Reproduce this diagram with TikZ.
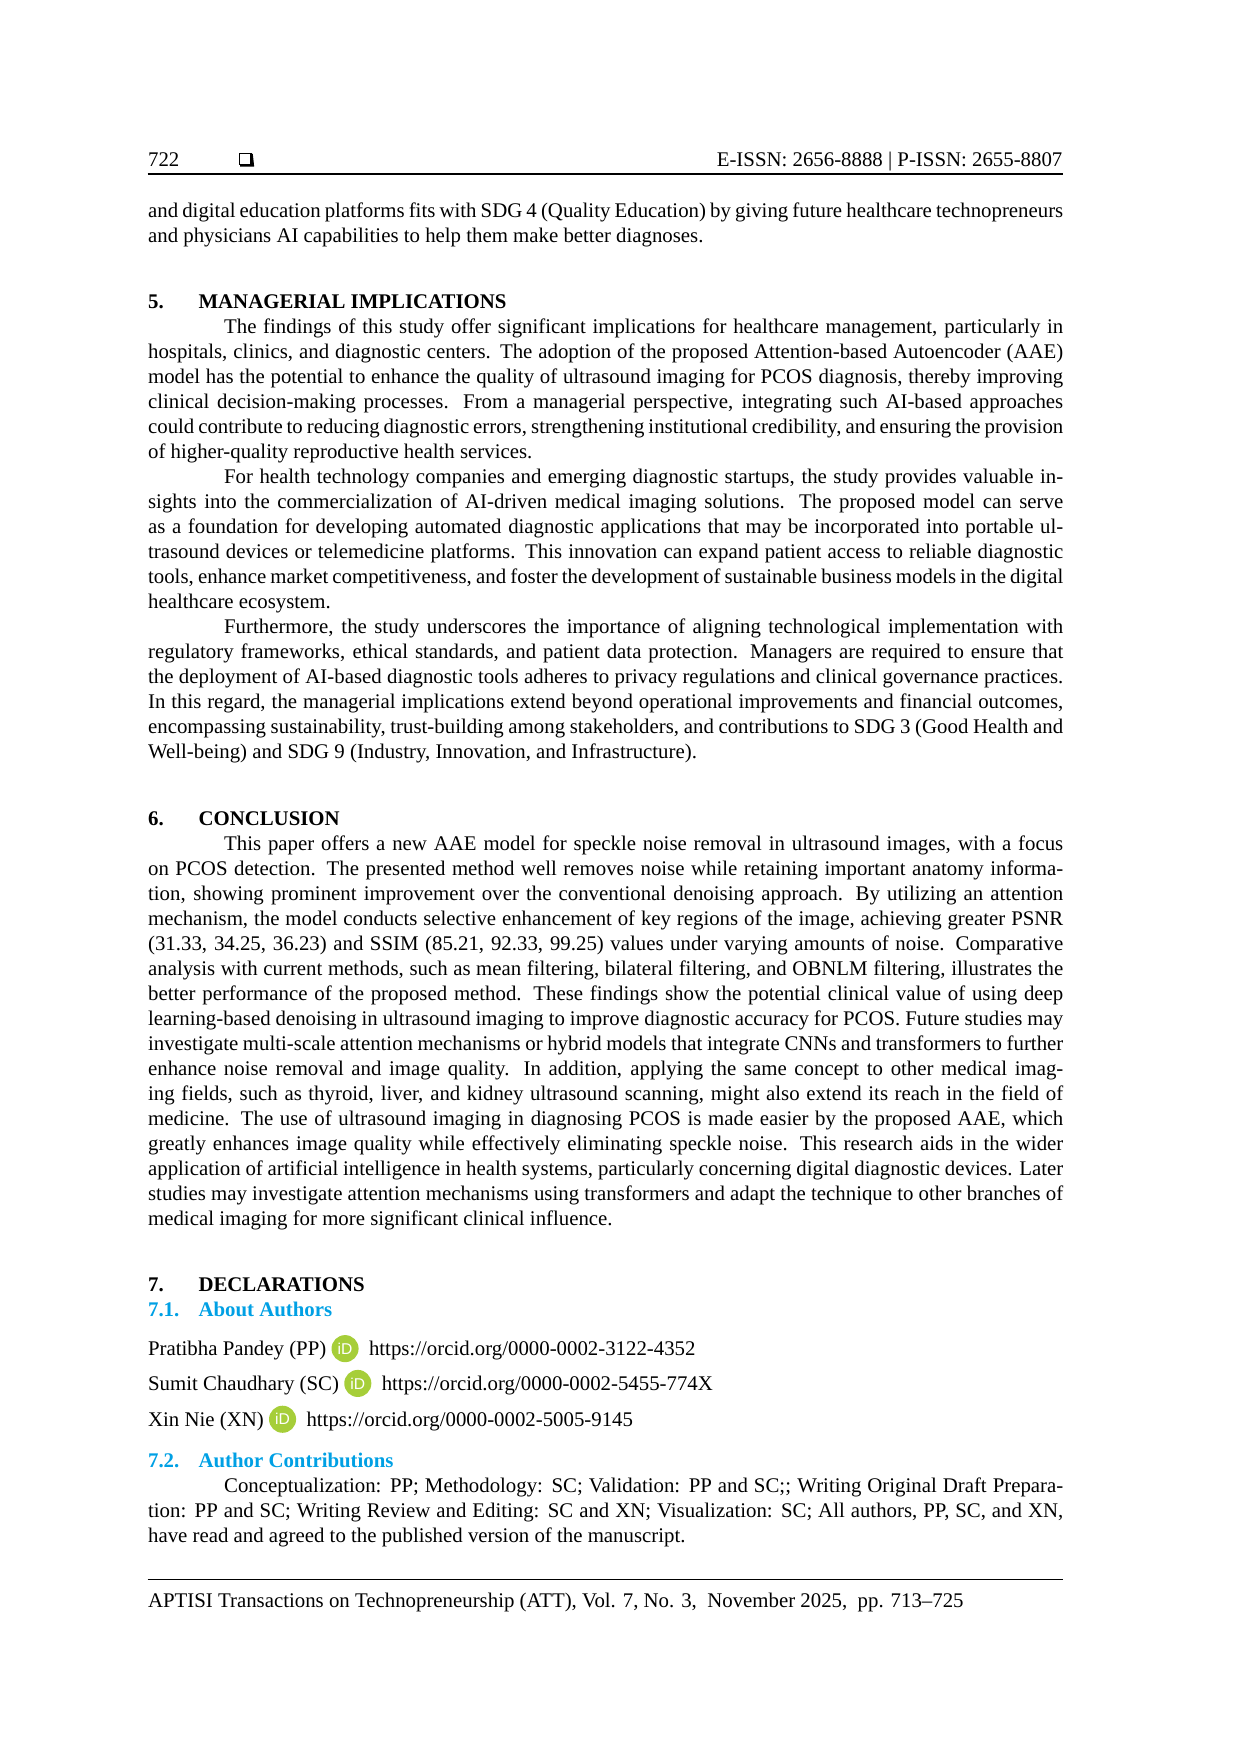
\documentclass[tikz,border=0pt]{standalone}
\usepackage{fontspec}
\setmainfont{Liberation Serif}
\newfontfamily\sansf{Liberation Sans}
\definecolor{secblue}{RGB}{0,160,228}
\definecolor{orcidg}{RGB}{166,206,57}
\newcommand{\orcidicon}{\raisebox{-0.5pt}{\tikz[baseline=0pt,x=1pt,y=1pt]{\fill[orcidg] (0,4pt) circle (6.5pt); \node[anchor=center,text=white,font=\sansf\fontsize{7.5}{8}\selectfont,inner sep=0] at (0,4pt) {iD};}}}
\newcommand{\ind}{\hspace*{36.5pt}}
\newcommand{\secnum}[1]{\makebox[24.2pt][l]{#1}}
\begin{document}
\begin{tikzpicture}[x=1pt,y=-1pt,
  txt/.style={anchor=north west,inner sep=0,text width=439.3pt,align=justify,font=\fontsize{10}{12}\selectfont},
  line/.style={anchor=north west,inner sep=0,font=\fontsize{10}{12}\selectfont}]
\useasboundingbox (0,0) rectangle (595.3,842);
% header
\node[line,anchor=base west] (pg) at (70.9,79.9) {722};
\node[inner sep=0,minimum size=5.5pt,draw,line width=0.6pt,fill=white] (bx) at (117.7,76.4) {};
\draw[line width=1.2pt] ([xshift=0.6pt]bx.south west) -- ([xshift=0.6pt]bx.south east) -- ([yshift=-0.6pt]bx.north east);
\node[line,anchor=base east] (issn) at (510.2,79.9) {E-ISSN: 2656-8888 \textbar\ P-ISSN: 2655-8807};
\coordinate (hl) at (70.9,83.4); \coordinate (hr) at (510.2,83.4);
\draw[line width=0.8pt] (hl) -- (hr);
% para 1
\node[txt] (p1) at (70.9,97.0) {and digital education platforms fits with SDG 4 (Quality Education) by giving future healthcare technopreneurs\linebreak and physicians AI capabilities to help them make better diagnoses.};
% section 5
\node[txt] (s5) at (70.9,141.5) {\textbf{\secnum{5.}MANAGERIAL IMPLICATIONS}\par
\ind The findings of this study offer significant implications for healthcare management, particularly in\linebreak hospitals, clinics, and diagnostic centers. The adoption of the proposed Attention-based Autoencoder (AAE)\linebreak model has the potential to enhance the quality of ultrasound imaging for PCOS diagnosis, thereby improving\linebreak clinical decision-making processes. From a managerial perspective, integrating such AI-based approaches\linebreak could contribute to reducing diagnostic errors, strengthening institutional credibility, and ensuring the provision\linebreak of higher-quality reproductive health services.\par
\ind For health technology companies and emerging diagnostic startups, the study provides valuable in-\linebreak sights into the commercialization of AI-driven medical imaging solutions. The proposed model can serve\linebreak as a foundation for developing automated diagnostic applications that may be incorporated into portable ul-\linebreak trasound devices or telemedicine platforms. This innovation can expand patient access to reliable diagnostic\linebreak tools, enhance market competitiveness, and foster the development of sustainable business models in the digital\linebreak healthcare ecosystem.\par
\ind Furthermore, the study underscores the importance of aligning technological implementation with\linebreak regulatory frameworks, ethical standards, and patient data protection. Managers are required to ensure that\linebreak the deployment of AI-based diagnostic tools adheres to privacy regulations and clinical governance practices.\linebreak In this regard, the managerial implications extend beyond operational improvements and financial outcomes,\linebreak encompassing sustainability, trust-building among stakeholders, and contributions to SDG 3 (Good Health and\linebreak Well-being) and SDG 9 (Industry, Innovation, and Infrastructure).};
% section 6
\node[txt] (s6) at (70.9,389.6) {\textbf{\secnum{6.}CONCLUSION}\par
\ind This paper offers a new AAE model for speckle noise removal in ultrasound images, with a focus\linebreak on PCOS detection. The presented method well removes noise while retaining important anatomy informa-\linebreak tion, showing prominent improvement over the conventional denoising approach. By utilizing an attention\linebreak mechanism, the model conducts selective enhancement of key regions of the image, achieving greater PSNR\linebreak (31.33, 34.25, 36.23) and SSIM (85.21, 92.33, 99.25) values under varying amounts of noise. Comparative\linebreak analysis with current methods, such as mean filtering, bilateral filtering, and OBNLM filtering, illustrates the\linebreak better performance of the proposed method. These findings show the potential clinical value of using deep\linebreak learning-based denoising in ultrasound imaging to improve diagnostic accuracy for PCOS. Future studies may\linebreak investigate multi-scale attention mechanisms or hybrid models that integrate CNNs and transformers to further\linebreak enhance noise removal and image quality. In addition, applying the same concept to other medical imag-\linebreak ing fields, such as thyroid, liver, and kidney ultrasound scanning, might also extend its reach in the field of\linebreak medicine. The use of ultrasound imaging in diagnosing PCOS is made easier by the proposed AAE, which\linebreak greatly enhances image quality while effectively eliminating speckle noise. This research aids in the wider\linebreak application of artificial intelligence in health systems, particularly concerning digital diagnostic devices. Later\linebreak studies may investigate attention mechanisms using transformers and adapt the technique to other branches of\linebreak medical imaging for more significant clinical influence.};
% section 7
\node[txt] (s7) at (70.9,613.2) {\textbf{\secnum{7.}DECLARATIONS}\par
\textcolor{secblue}{\textbf{\secnum{7.1.}About Authors}}};
\node[line] (a1) at (70.9,640.7) {Pratibha Pandey (PP) \orcidicon\ \ https://orcid.org/0000-0002-3122-4352};
\node[line] (a2) at (70.9,657.4) {Sumit Chaudhary (SC) \orcidicon\ \ https://orcid.org/0000-0002-5455-774X};
\node[line] (a3) at (70.9,674.6) {Xin Nie (XN) \orcidicon\ \ https://orcid.org/0000-0002-5005-9145};
\node[txt] (s72) at (70.9,697.5) {\textcolor{secblue}{\textbf{\secnum{7.2.}Author Contributions}}\par
\ind Conceptualization: PP; Methodology: SC; Validation: PP and SC;; Writing Original Draft Prepara-\linebreak tion: PP and SC; Writing Review and Editing: SC and XN; Visualization: SC; All authors, PP, SC, and XN,\linebreak have read and agreed to the published version of the manuscript.};
% footer
\coordinate (fl) at (70.9,758.3); \coordinate (fr) at (510.2,758.3);
\draw[line width=0.8pt] (fl) -- (fr);
\node[line,anchor=base west] (ft) at (70.9,771.8) {APTISI Transactions on Technopreneurship (ATT), Vol. 7, No. 3, \ November 2025, \ pp. 713--725};
\end{tikzpicture}
\end{document}
